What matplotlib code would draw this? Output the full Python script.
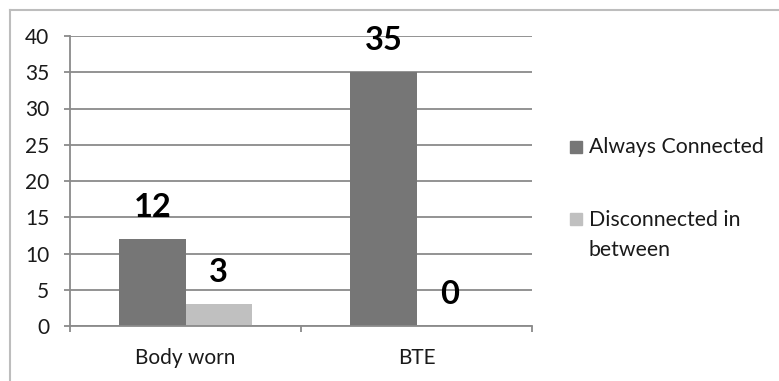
import matplotlib
matplotlib.use("Agg")
import matplotlib.pyplot as plt
from matplotlib.patches import Rectangle
from matplotlib.lines import Line2D
import numpy as np

categories = ["Body worn", "BTE"]
series_names = ["Always Connected", "Disconnected in\nbetween"]
always_connected = [12, 35]
disconnected = [3, 0]
series_colors = ["#767676", "#c0c0c0"]
y_ticks = [0, 5, 10, 15, 20, 25, 30, 35, 40]

plt.rcParams["font.family"] = ["Lato", "DejaVu Sans"]

W, H = 779, 381
fig = plt.figure(figsize=(W / 100, H / 100), dpi=100)
ax = fig.add_axes([70 / W, 1 - 326 / H, (532 - 70) / W, (326 - 36) / H])

grid_col = "#8a8a8a"
text_col = "#1a1a1a"

x = np.arange(len(categories))
bw = 0.286
values = [always_connected, disconnected]
offsets = [-bw / 2, bw / 2]
for vals, off, col in zip(values, offsets, series_colors):
    bars = ax.bar(x + off, vals, width=bw, color=col, zorder=3)
    for b, v in zip(bars, vals):
        ax.annotate(str(v), (b.get_x() + b.get_width() / 2, v),
                    xytext=(0, 22.5), textcoords="offset points",
                    ha="center", va="center", fontsize=23.5,
                    fontweight="bold", color="black", zorder=5)

ax.set_xlim(-0.5, len(categories) - 0.5)
ax.set_ylim(0, 40)
ax.set_yticks(y_ticks)
ax.yaxis.grid(True, color=grid_col, linewidth=1.3, zorder=0)
ax.set_axisbelow(True)

# category boundaries carry the tick marks, labels sit at the centres
ax.set_xticks(np.arange(-0.5, len(categories), 1.0))
ax.set_xticklabels([])
ax.set_xticks(x, minor=True)
ax.set_xticklabels(categories, minor=True, fontsize=15, color=text_col)
ax.tick_params(axis="x", which="major", length=4.5, width=1.3,
               color=grid_col, direction="out")
ax.tick_params(axis="x", which="minor", length=0, pad=15.5)
ax.tick_params(axis="y", length=4.5, width=1.3, color=grid_col,
               labelsize=15, labelcolor=text_col, pad=10.5)

for s in ["top", "right"]:
    ax.spines[s].set_visible(False)
for s in ["left", "bottom"]:
    ax.spines[s].set_color(grid_col)
    ax.spines[s].set_linewidth(1.3)
    ax.spines[s].set_zorder(4)

# legend
sq = 12
leg_rows = [(147, 147), (219, 235)]
for (ymark, ytext), name, col in zip(leg_rows, series_names, series_colors):
    fig.add_artist(Rectangle((570 / W, 1 - (ymark + sq / 2) / H), sq / W, sq / H,
                             transform=fig.transFigure, color=col))
    fig.text(589 / W, 1 - ytext / H, name, fontsize=15.3, color=text_col,
             ha="left", va="center", linespacing=1.58)

# chart frame
frame_col = "#bdbdbd"
fig.add_artist(Line2D([10 / W, 1], [1 - 10 / H, 1 - 10 / H],
                      transform=fig.transFigure, color=frame_col, lw=1.5))
fig.add_artist(Line2D([10 / W, 10 / W], [0, 1 - 10 / H],
                      transform=fig.transFigure, color=frame_col, lw=1.5))

fig.savefig("out.png", dpi=100, facecolor="white")
